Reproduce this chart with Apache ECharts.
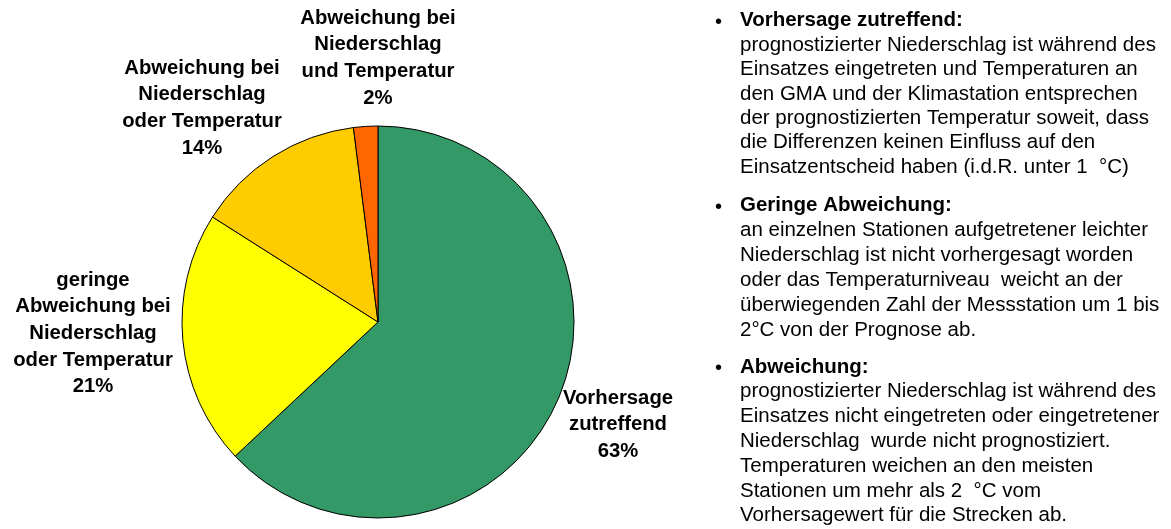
<!DOCTYPE html>
<html>
<head>
<meta charset="utf-8">
<script src="https://cdn.jsdelivr.net/npm/echarts@6/dist/echarts.min.js"></script>
<style>
  html, body { margin: 0; padding: 0; background: #fff; }
  #main { width: 1171px; height: 529px; }
</style>
</head>
<body>
<div id="main"></div>
<script>
// Kategorien und Anteile (%)
const categories = [
  'Vorhersage\nzutreffend',
  'geringe\nAbweichung bei\nNiederschlag\noder Temperatur',
  'Abweichung bei\nNiederschlag\noder Temperatur',
  'Abweichung bei\nNiederschlag\nund Temperatur'
];
const values = [63, 21, 14, 2];
const colors = ['#339966', '#FFFF00', '#FFCC00', '#FF6600'];

// Erläuterungen rechts
const notes = [
  {
    head: 'Vorhersage zutreffend:',
    lines: [
      'prognostizierter Niederschlag ist während des',
      'Einsatzes eingetreten und Temperaturen an',
      'den GMA und der Klimastation entsprechen',
      'der prognostizierten Temperatur soweit, dass',
      'die Differenzen keinen Einfluss auf den',
      'Einsatzentscheid haben (i.d.R. unter 1  °C)'
    ]
  },
  {
    head: 'Geringe Abweichung:',
    lines: [
      'an einzelnen Stationen aufgetretener leichter',
      'Niederschlag ist nicht vorhergesagt worden',
      'oder das Temperaturniveau  weicht an der',
      'überwiegenden Zahl der Messstation um 1 bis',
      '2°C von der Prognose ab.'
    ]
  },
  {
    head: 'Abweichung:',
    lines: [
      'prognostizierter Niederschlag ist während des',
      'Einsatzes nicht eingetreten oder eingetretener',
      'Niederschlag  wurde nicht prognostiziert.',
      'Temperaturen weichen an den meisten',
      'Stationen um mehr als 2  °C vom',
      'Vorhersagewert für die Strecken ab.'
    ]
  }
];

// Position der Beschriftungen (Mitte, obere Kante)
const labelPos = [
  { x: 618, y: 384.6 },
  { x: 93, y: 266.6 },
  { x: 202, y: 54.6 },
  { x: 378, y: 4.6 }
];
const noteTops = [10, 194.5, 356.5];
const noteLH = [24.45, 25, 24.8];
const FONT = '"Liberation Sans", Arial, sans-serif';

const chart = echarts.init(document.getElementById('main'));

const graphics = [];
notes.forEach((n, i) => {
  graphics.push({
    type: 'text',
    left: 715,
    top: noteTops[i],
    style: {
      text: '•',
      font: '20px ' + FONT,
      fill: '#000',
      lineHeight: noteLH[i]
    }
  });
  graphics.push({
    type: 'text',
    left: 740,
    top: noteTops[i],
    style: {
      text: '{h|' + n.head + '}\n' + n.lines.map(l => '{t|' + l + '}').join('\n'),
      rich: {
        h: { font: 'bold 20.5px ' + FONT, fill: '#000', lineHeight: noteLH[i] },
        t: { font: '20.5px ' + FONT, fill: '#000', lineHeight: noteLH[i] }
      }
    }
  });
});

chart.setOption({
  backgroundColor: '#fff',
  animation: false,
  color: colors,
  graphic: graphics,
  series: [{
    type: 'pie',
    center: [378, 322],
    radius: 196,
    startAngle: 90,
    clockwise: true,
    itemStyle: { borderColor: '#000', borderWidth: 1 },
    label: {
      show: true,
      formatter: '{b}\n{d}%',
      fontFamily: FONT,
      fontWeight: 'bold',
      fontSize: 20.3,
      lineHeight: 26.7,
      color: '#000',
      align: 'center',
      overflow: 'none'
    },
    labelLine: { show: false },
    labelLayout: function (p) {
      const pos = labelPos[p.dataIndex];
      return { x: pos.x, y: pos.y, align: 'center', verticalAlign: 'top' };
    },
    data: categories.map((c, i) => ({ name: c, value: values[i] }))
  }]
});
</script>
</body>
</html>
